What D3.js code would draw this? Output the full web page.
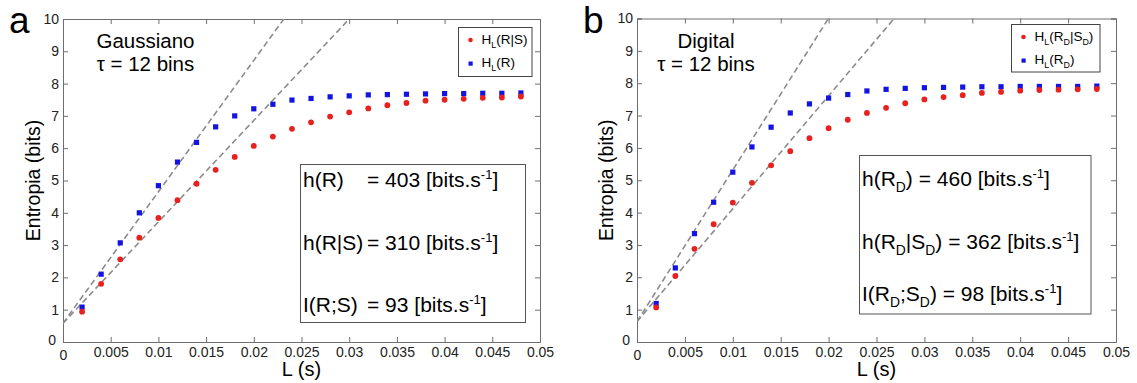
<!DOCTYPE html>
<html>
<head>
<meta charset="utf-8">
<script src="https://cdn.jsdelivr.net/npm/d3@7"></script>
<style>
  body { margin: 0; background: #fff; }
  svg { font-family: "Liberation Sans", Arial, sans-serif; }
</style>
</head>
<body>
<svg width="1137" height="383"></svg>
<script>
"use strict";

// window length L (s)
var L = [0.002, 0.004, 0.006, 0.008, 0.010, 0.012, 0.014, 0.016, 0.018, 0.020, 0.022, 0.024,
         0.026, 0.028, 0.030, 0.032, 0.034, 0.036, 0.038, 0.040, 0.042, 0.044, 0.046, 0.048];

// panel a : Gaussiano
var aHR  = [1.08, 2.10, 3.07, 4.00, 4.84, 5.57, 6.18, 6.66, 7.00, 7.22, 7.36, 7.49,
            7.54, 7.59, 7.62, 7.65, 7.66, 7.67, 7.68, 7.69, 7.69, 7.70, 7.70, 7.71];
var aHRS = [0.94, 1.80, 2.56, 3.23, 3.84, 4.39, 4.90, 5.33, 5.73, 6.07, 6.36, 6.60,
            6.80, 6.98, 7.11, 7.23, 7.33, 7.40, 7.47, 7.50, 7.53, 7.56, 7.57, 7.60];
var aFits = [{slope: 407, intercept: 0.58}, {slope: 314, intercept: 0.58}];

// panel b : Digital
var bHR  = [1.19, 2.29, 3.35, 4.32, 5.25, 6.03, 6.64, 7.08, 7.36, 7.54, 7.65, 7.76,
            7.81, 7.84, 7.86, 7.87, 7.88, 7.89, 7.89, 7.90, 7.90, 7.90, 7.90, 7.91];
var bHRS = [1.07, 2.04, 2.88, 3.64, 4.31, 4.92, 5.46, 5.90, 6.30, 6.61, 6.87, 7.08,
            7.24, 7.38, 7.50, 7.57, 7.63, 7.70, 7.73, 7.77, 7.79, 7.80, 7.81, 7.82];
var bFits = [{slope: 469, intercept: 0.63}, {slope: 349, intercept: 0.63}];

var RED = "#e8201e", BLUE = "#1414e0";

var svg = d3.select("svg");

// writes text made of normal / sub / sup pieces
function richText(g, x, y, parts, size) {
  var t = g.append("text").attr("x", x).attr("y", y).style("font-size", size + "px");
  var shift = 0;
  parts.forEach(function(p) {
    var want = 0, fs = size;
    if (p[1] === "sub") { want = size * 0.3; fs = size * 0.66; }
    if (p[1] === "sup") { want = -size * 0.36; fs = size * 0.62; }
    t.append("tspan")
      .attr("dy", want - shift)
      .style("font-size", fs + "px")
      .style("white-space", "pre")
      .text(p[0]);
    shift = want;
  });
  return t;
}

function drawPanel(cfg) {
  var x = d3.scaleLinear().domain([0, 0.05]).range([cfg.left, cfg.right]);
  var y = d3.scaleLinear().domain([0, 10]).range([cfg.bottom, cfg.top]);
  var g = svg.append("g");

  var clipId = "clip" + cfg.letter;
  g.append("clipPath").attr("id", clipId)
    .append("rect")
      .attr("x", cfg.left).attr("y", cfg.top)
      .attr("width", cfg.right - cfg.left).attr("height", cfg.bottom - cfg.top);

  // axes, ticks inside on every side
  var fmt = d3.format("~g");
  var axB = g.append("g").attr("transform", "translate(0," + cfg.bottom + ")")
    .call(d3.axisBottom(x).ticks(10).tickSize(-5).tickPadding(5).tickFormat(fmt));
  var axT = g.append("g").attr("transform", "translate(0," + cfg.top + ")")
    .call(d3.axisTop(x).ticks(10).tickSize(-5).tickFormat(""));
  var axL = g.append("g").attr("transform", "translate(" + cfg.left + ",0)")
    .call(d3.axisLeft(y).ticks(10).tickSize(-5).tickPadding(4));
  var axR = g.append("g").attr("transform", "translate(" + cfg.right + ",0)")
    .call(d3.axisRight(y).ticks(10).tickSize(-5).tickFormat(""));
  [axB, axT, axL, axR].forEach(function(a) {
    a.select(".domain").attr("stroke", "#6e6e6e");
    a.selectAll(".tick line").attr("stroke", "#6e6e6e");
    a.selectAll(".tick text").style("font-size", "14px").attr("fill", "#222")
      .style("font-family", "'Liberation Sans', Arial, sans-serif");
  });
  axB.selectAll(".tick text").filter(function(d) { return d === 0; }).attr("dy", "0.9em");
  axL.selectAll(".tick text").filter(function(d) { return d === 0; })
    .attr("dy", "0.15em").attr("x", -7);

  // fitted dashed lines
  g.append("g").attr("clip-path", "url(#" + clipId + ")")
    .selectAll("line").data(cfg.fits).enter().append("line")
      .attr("x1", x(0)).attr("y1", function(d) { return y(d.intercept); })
      .attr("x2", x(0.05)).attr("y2", function(d) { return y(d.intercept + d.slope * 0.05); })
      .attr("stroke", "#8c8c8c").attr("stroke-width", 1.6).attr("stroke-dasharray", "6,3.5");

  // markers
  g.append("g").selectAll("rect").data(L).enter().append("rect")
    .attr("x", function(d) { return x(d) - 2.6; })
    .attr("y", function(d, i) { return y(cfg.hr[i]) - 2.6; })
    .attr("width", 5.2).attr("height", 5.2).attr("fill", BLUE);
  g.append("g").selectAll("circle").data(L).enter().append("circle")
    .attr("cx", function(d) { return x(d); })
    .attr("cy", function(d, i) { return y(cfg.hrs[i]); })
    .attr("r", 2.9).attr("fill", RED);

  // axis labels
  g.append("text").attr("x", (cfg.left + cfg.right) / 2).attr("y", 376)
    .attr("text-anchor", "middle").style("font-size", "20px").text("L (s)");
  g.append("text")
    .attr("transform", "translate(" + cfg.ylabX + "," + (cfg.top + cfg.bottom) / 2 + ") rotate(-90)")
    .attr("text-anchor", "middle").style("font-size", "19.5px").text("Entropia (bits)");

  // panel letter
  g.append("text").attr("x", cfg.letterX).attr("y", 33).style("font-size", "37px").text(cfg.letter);

  // title
  g.append("text").attr("x", cfg.titleX).attr("y", 47.7).attr("text-anchor", "middle")
    .style("font-size", "20.5px").text(cfg.title);
  g.append("text").attr("x", cfg.titleX).attr("y", 71).attr("text-anchor", "middle")
    .style("font-size", "20.5px").text("\u03C4 = 12 bins");

  // legend
  var lg = cfg.legend;
  g.append("rect").attr("x", lg.x).attr("y", lg.y).attr("width", lg.w).attr("height", lg.h)
    .attr("fill", "#fff").attr("stroke", "#444").attr("stroke-width", 1);
  g.append("circle").attr("cx", lg.x + 12).attr("cy", lg.y + 12.5).attr("r", 2.3).attr("fill", RED);
  g.append("rect").attr("x", lg.x + 10).attr("y", lg.y + 34).attr("width", 4.2).attr("height", 4.2).attr("fill", BLUE);
  richText(g, lg.x + 23, lg.y + 16.5, cfg.legendParts[0], 13.5);
  richText(g, lg.x + 23, lg.y + 39.5, cfg.legendParts[1], 13.5);

  // rates box
  var bx = cfg.box;
  g.append("rect").attr("x", bx.x).attr("y", bx.y).attr("width", bx.w).attr("height", bx.h)
    .attr("fill", "#fff").attr("stroke", "#555").attr("stroke-width", 1);
  cfg.boxLines.forEach(function(line, i) {
    richText(g, bx.x + 2.5, bx.base[i], line.left, 21);
    if (line.right) richText(g, bx.eqX, bx.base[i], line.right, 21);
  });
}

drawPanel({
  letter: "a", letterX: 9, left: 63, right: 540, top: 19, bottom: 342,
  ylabX: 39.5, title: "Gaussiano", titleX: 145.5,
  hr: aHR, hrs: aHRS, fits: aFits,
  legend: {x: 458.5, y: 27.5, w: 73.5, h: 49},
  legendParts: [
    [["H"], ["L", "sub"], ["(R|S)"]],
    [["H"], ["L", "sub"], ["(R)"]]
  ],
  box: {x: 300.5, y: 164.5, w: 225, h: 158, eqX: 367, base: [186.7, 250, 311.7]},
  boxLines: [
    {left: [["h(R)"]], right: [["= 403 [bits.s"], ["-1", "sup"], ["]"]]},
    {left: [["h(R|S)"]], right: [["= 310 [bits.s"], ["-1", "sup"], ["]"]]},
    {left: [["I(R;S)"]], right: [["= 93 [bits.s"], ["-1", "sup"], ["]"]]}
  ]
});

drawPanel({
  letter: "b", letterX: 583, left: 637, right: 1116, top: 18.5, bottom: 342,
  ylabX: 613, title: "Digital", titleX: 706,
  hr: bHR, hrs: bHRS, fits: bFits,
  legend: {x: 1011.5, y: 24.5, w: 88.5, h: 47.5},
  legendParts: [
    [["H"], ["L", "sub"], ["(R"], ["D", "sub"], ["|S"], ["D", "sub"], [")"]],
    [["H"], ["L", "sub"], ["(R"], ["D", "sub"], [")"]]
  ],
  box: {x: 859.5, y: 155.5, w: 231.5, h: 158.5, base: [186, 249, 300.7]},
  boxLines: [
    {left: [["h(R"], ["D", "sub"], [") = 460 [bits.s"], ["-1", "sup"], ["]"]]},
    {left: [["h(R"], ["D", "sub"], ["|S"], ["D", "sub"], [") = 362 [bits.s"], ["-1", "sup"], ["]"]]},
    {left: [["I(R"], ["D", "sub"], [";S"], ["D", "sub"], [") = 98 [bits.s"], ["-1", "sup"], ["]"]]}
  ]
});
</script>
</body>
</html>
